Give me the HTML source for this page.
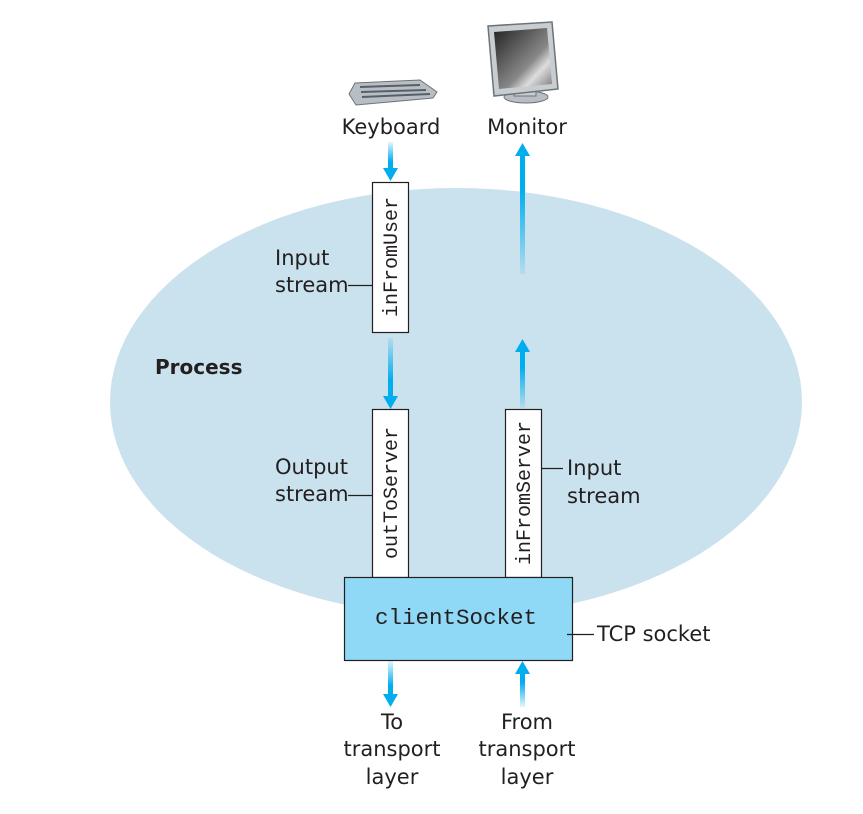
<!DOCTYPE html>
<html><head><meta charset="utf-8"><style>
html,body{margin:0;padding:0;background:#fff}
svg{display:block}
.s{font-family:"DejaVu Sans","Liberation Sans",sans-serif;font-size:21px;fill:#231f20}
.m{font-family:"Liberation Mono",monospace;font-size:20px;fill:#231f20}
</style></head><body>
<svg width="863" height="814" viewBox="0 0 863 814" xmlns="http://www.w3.org/2000/svg">
<defs>
<linearGradient id="gd" x1="0" y1="0" x2="0" y2="1"><stop offset="0" stop-color="#00aeef" stop-opacity="0.1"/><stop offset="0.7" stop-color="#00aeef"/></linearGradient>
<linearGradient id="gu" x1="0" y1="1" x2="0" y2="0"><stop offset="0" stop-color="#00aeef" stop-opacity="0.1"/><stop offset="0.7" stop-color="#00aeef"/></linearGradient>
<linearGradient id="scr" x1="0" y1="0" x2="1" y2="1"><stop offset="0" stop-color="#222"/><stop offset="0.6" stop-color="#888"/><stop offset="0.75" stop-color="#ddd"/><stop offset="1" stop-color="#777"/></linearGradient>
</defs>
<ellipse cx="456" cy="402" rx="346" ry="214" fill="#c9e2ee"/>
<polygon points="349,94 355,83 420,80 437,92 433,98 356,105" fill="#b8bec3" stroke="#6d7377" stroke-width="1"/>
<g stroke="#56606a" stroke-width="2"><line x1="360" y1="87" x2="420" y2="85"/><line x1="361" y1="92" x2="426" y2="90"/><line x1="362" y1="97" x2="430" y2="94"/></g>
<ellipse cx="526" cy="97" rx="22" ry="6" fill="#b8bec3" stroke="#6d7377"/>
<rect x="514" y="84" width="22" height="12" fill="#c8cdd1" stroke="#6d7377"/>
<polygon points="488,26 552,22 558,89 494,96" fill="#c8cdd1" stroke="#6d7377" stroke-width="1.5"/>
<polygon points="494,32 547,28 552,84 499,89" fill="url(#scr)"/>
<text class="s" x="391" y="134" text-anchor="middle">Keyboard</text>
<text class="s" x="527" y="134" text-anchor="middle">Monitor</text>
<g>
<rect x="388" y="142" width="5" height="28" fill="url(#gd)"/><polygon points="383,168 398,168 390.5,181" fill="#00aeef"/>
<rect x="388" y="338" width="5" height="60" fill="url(#gd)"/><polygon points="383,396 398,396 390.5,409" fill="#00aeef"/>
<rect x="388" y="661" width="5" height="35" fill="url(#gd)"/><polygon points="383,694 398,694 390.5,707" fill="#00aeef"/>
<rect x="520" y="154" width="5" height="120" fill="url(#gu)"/><polygon points="515,156 530,156 522.5,143" fill="#00aeef"/>
<rect x="520" y="350" width="5" height="58" fill="url(#gu)"/><polygon points="515,352 530,352 522.5,339" fill="#00aeef"/>
<rect x="520" y="672" width="5" height="35" fill="url(#gu)"/><polygon points="515,674 530,674 522.5,661" fill="#00aeef"/>
</g>
<rect x="372.5" y="182.5" width="36" height="150" fill="#fff" stroke="#231f20" stroke-width="1.2"/>
<rect x="372.5" y="409.5" width="36" height="168" fill="#fff" stroke="#231f20" stroke-width="1.2"/>
<rect x="505.5" y="409.5" width="36" height="168" fill="#fff" stroke="#231f20" stroke-width="1.2"/>
<rect x="344.5" y="577.5" width="228" height="83" fill="#8fd8f6" stroke="#231f20" stroke-width="1.2"/>
<text class="m" transform="translate(397,257) rotate(-90)" text-anchor="middle">inFromUser</text>
<text class="m" transform="translate(397,493) rotate(-90)" text-anchor="middle">outToServer</text>
<text class="m" transform="translate(530,493) rotate(-90)" text-anchor="middle">inFromServer</text>
<text class="m" x="456" y="624" text-anchor="middle" style="font-size:22.5px">clientSocket</text>
<g stroke="#231f20" stroke-width="1.2">
<line x1="348" y1="285.5" x2="372" y2="285.5"/>
<line x1="348" y1="495.5" x2="372" y2="495.5"/>
<line x1="541" y1="468.5" x2="563" y2="468.5"/>
<line x1="567" y1="634.5" x2="594" y2="634.5"/>
</g>
<text class="s" x="275" y="265">Input</text>
<text class="s" x="275" y="292">stream</text>
<text class="s" x="155" y="374" style="font-weight:bold;font-size:20px">Process</text>
<text class="s" x="275" y="474">Output</text>
<text class="s" x="275" y="501">stream</text>
<text class="s" x="567" y="475">Input</text>
<text class="s" x="567" y="503">stream</text>
<text class="s" x="597" y="641">TCP socket</text>
<text class="s" x="392" y="729" text-anchor="middle">To</text>
<text class="s" x="392" y="756" text-anchor="middle">transport</text>
<text class="s" x="392" y="784" text-anchor="middle">layer</text>
<text class="s" x="527" y="729" text-anchor="middle">From</text>
<text class="s" x="527" y="756" text-anchor="middle">transport</text>
<text class="s" x="527" y="784" text-anchor="middle">layer</text>
</svg>
</body></html>
